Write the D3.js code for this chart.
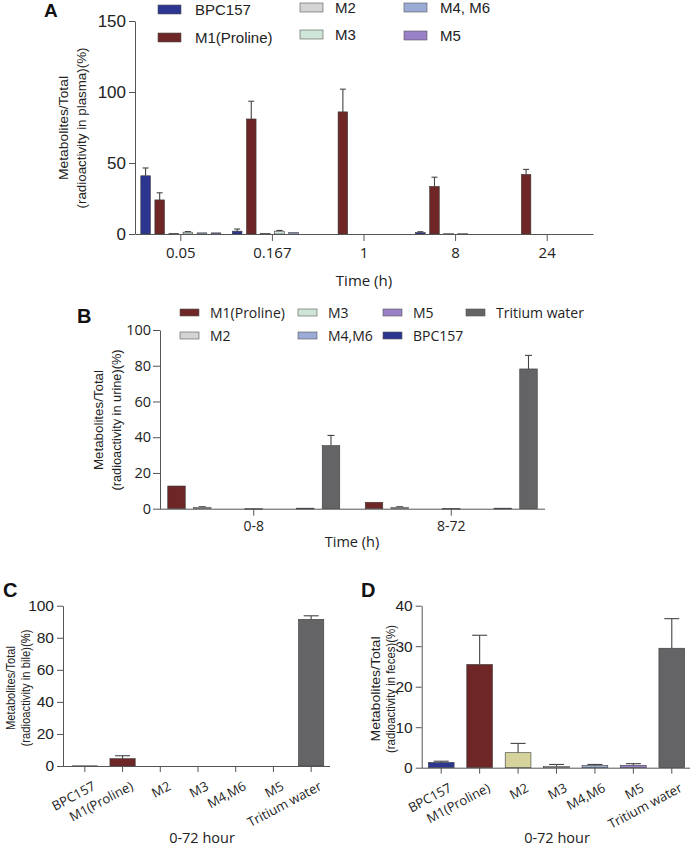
<!DOCTYPE html>
<html><head><meta charset="utf-8">
<script src="https://cdn.jsdelivr.net/npm/d3@7/dist/d3.min.js"></script>
<style>body{margin:0;background:#fff}svg{display:block}</style>
</head><body><svg id="c" width="693" height="846"></svg>
<script>
// ---------- Panel A (plasma) ----------
const timesA = ["0.05", "0.167", "1", "8", "24"];
const seriesA = ["BPC157", "M1(Proline)", "M2", "M3", "M4, M6", "M5"];
const valsA_BPC157 = [41, 2, 0, 1, 0];
const valsA_M1 = [24, 81, 86, 33.5, 42];
const valsA_M2 = [0.5, 0.5, 0, 0.3, 0];
const valsA_M3 = [1.3, 2, 0, 0.3, 0];
const valsA_M4 = [0.8, 1, 0, 0, 0];
const valsA_M5 = [0.8, 0, 0, 0, 0];
const errA_BPC157 = [5.5, 1.5, 0, 0.6, 0];
const errA_M1 = [5, 12.5, 16, 6.5, 3.5];
const errA_M2 = [0, 0, 0, 0, 0];
const errA_M3 = [0.4, 0.5, 0, 0, 0];
const errA_M4 = [0, 0, 0, 0, 0];
const errA_M5 = [0, 0, 0, 0, 0];
const ticksA = [0, 50, 100, 150];

// ---------- Panel B (urine) ----------
const timesB = ["0-8", "8-72"];
const seriesB = ["M1(Proline)", "M2", "M3", "M4,M6", "M5", "BPC157", "Tritium water"];
const valsB_M1 = [12.7, 3.6];
const valsB_M2 = [0.8, 0.8];
const valsB_M3 = [0, 0];
const valsB_M4 = [0.1, 0.2];
const valsB_M5 = [0, 0];
const valsB_BPC157 = [0.3, 0.3];
const valsB_TW = [35.3, 78.2];
const errB_M1 = [0, 0];
const errB_M2 = [0.3, 0.3];
const errB_TW = [5.7, 7.6];
const ticksB = [0, 20, 40, 60, 80, 100];

// ---------- Panel C (bile) & D (feces) ----------
const catsCD = ["BPC157", "M1(Proline)", "M2", "M3", "M4,M6", "M5", "Tritium water"];
const valsC = [0.1, 4.6, 0, 0, 0, 0, 91.5];
const errC = [0, 1.8, 0, 0, 0, 0, 2.2];
const ticksC = [0, 20, 40, 60, 80, 100];
const valsD = [1.3, 25.5, 3.7, 0.3, 0.5, 0.6, 29.5];
const errD = [0.3, 7.2, 2.3, 0.5, 0.3, 0.4, 7.3];
const ticksD = [0, 10, 20, 30, 40];

// colours
const colBPC = "#2c3690", colM1 = "#6e2626", colM2 = "#d4d4d4", colM2D = "#d6d29c",
      colM3 = "#cfe5d7", colM3D = "#c9d8c8", colM4 = "#9aabd5", colM5 = "#9a80c6", colTW = "#646467";

const svg = d3.select("#c");
const AX = "#555";
const SANS = "'Liberation Sans', Arial, sans-serif";
const OPEN = "'Open Sans', sans-serif";

function styleAxis(g, fontSize, family) {
  g.selectAll("path.domain").attr("stroke", AX).attr("stroke-width", 1);
  g.selectAll(".tick line").attr("stroke", AX).attr("stroke-width", 1);
  g.selectAll(".tick text").attr("fill", "#222").attr("font-size", fontSize).attr("font-family", family);
}
function ylabel(x1, x2, cy, l1, l2, len1, len2) {
  [[x1, l1, len1], [x2, l2, len2]].forEach(([x, t, L]) => {
    svg.append("text").attr("transform", `translate(${x},${cy}) rotate(-90)`)
      .attr("text-anchor", "middle").attr("font-family", SANS).attr("font-size", 12.5)
      .attr("fill", "#222").attr("textLength", L).attr("lengthAdjust", "spacingAndGlyphs").text(t);
  });
}
function letter(x, y, t, fs) {
  svg.append("text").attr("x", x).attr("y", y).attr("font-family", SANS).attr("font-weight", "bold")
    .attr("font-size", fs).attr("fill", "#111").text(t);
}
function bars(g, data, x, y, bw, capW) {
  g.selectAll(null).data(data.filter(d => d.e > 0)).join("line")
    .attr("x1", d => d.x + bw / 2).attr("x2", d => d.x + bw / 2)
    .attr("y1", d => y(d.v)).attr("y2", d => y(d.v + d.e))
    .attr("stroke", "#444").attr("stroke-width", 1.1);
  g.selectAll(null).data(data.filter(d => d.e > 0)).join("line")
    .attr("x1", d => d.x + bw / 2 - capW / 2).attr("x2", d => d.x + bw / 2 + capW / 2)
    .attr("y1", d => y(d.v + d.e)).attr("y2", d => y(d.v + d.e))
    .attr("stroke", "#444").attr("stroke-width", 1.1);
  g.selectAll(null).data(data.filter(d => d.v > 0)).join("rect")
    .attr("x", d => d.x).attr("width", bw)
    .attr("y", d => y(d.v)).attr("height", d => Math.max(0.8, y(0) - y(d.v)))
    .attr("fill", d => d.c).attr("stroke", "#3a3a3a").attr("stroke-width", 0.6);
}

// ================= Panel A =================
{
  const y = d3.scaleLinear().domain([0, 150]).range([234, 21]);
  const x0 = d3.scaleBand().domain(timesA).range([135, 593]).padding(0);
  const x1 = d3.scaleBand().domain(seriesA).range([-40, 40]).paddingInner(0.32);
  const vals = [valsA_BPC157, valsA_M1, valsA_M2, valsA_M3, valsA_M4, valsA_M5];
  const errs = [errA_BPC157, errA_M1, errA_M2, errA_M3, errA_M4, errA_M5];
  const cols = [colBPC, colM1, colM2, colM3, colM4, colM5];
  const data = [];
  timesA.forEach((t, i) => seriesA.forEach((s, j) => {
    data.push({ x: x0(t) + x0.bandwidth() / 2 + x1(s), v: vals[j][i], e: errs[j][i], c: cols[j] });
  }));
  const g = svg.append("g");
  bars(g, data, x0, y, x1.bandwidth(), 6);
  const ya = svg.append("g").attr("transform", "translate(135,0)")
    .call(d3.axisLeft(y).tickValues(ticksA).tickSize(6).tickSizeOuter(0).tickPadding(3));
  styleAxis(ya, 17, SANS);
  const xa = svg.append("g").attr("transform", "translate(0,234)")
    .call(d3.axisBottom(x0).tickSize(7).tickSizeOuter(0).tickPadding(6));
  styleAxis(xa, 15, OPEN);
  svg.append("text").attr("x", 364).attr("y", 286).attr("text-anchor", "middle")
    .attr("font-family", OPEN).attr("font-size", 15).attr("fill", "#222").text("Time (h)");
  ylabel(68, 86, 128, "Metabolites/Total", "(radioactivity in plasma)(%)", 104, 161);
  letter(44, 17, "A", 19);
  const lg = [[158, 5], [158, 33], [300, 3], [300, 30], [404, 3], [404, 31]];
  const ltx = [195, 195, 335, 335, 440, 440];
  seriesA.forEach((s, j) => {
    svg.append("rect").attr("x", lg[j][0]).attr("y", lg[j][1]).attr("width", 23).attr("height", 9)
      .attr("fill", cols[j]).attr("stroke", "#555").attr("stroke-width", 0.6);
    svg.append("text").attr("x", ltx[j]).attr("y", lg[j][1] + 10).attr("font-family", SANS)
      .attr("font-size", 15).attr("fill", "#222").text(s);
  });
}

// ================= Panel B =================
{
  const y = d3.scaleLinear().domain([0, 100]).range([508.7, 330]);
  const x0 = d3.scaleBand().domain(timesB).range([155, 550]).padding(0);
  const x1 = d3.scaleBand().domain(seriesB).range([-86, 86]).paddingInner(0.32);
  const vals = [valsB_M1, valsB_M2, valsB_M3, valsB_M4, valsB_M5, valsB_BPC157, valsB_TW];
  const zeros = [0, 0];
  const errs = [errB_M1, errB_M2, zeros, zeros, zeros, zeros, errB_TW];
  const cols = [colM1, colM2, colM3, colM4, colM5, colBPC, colTW];
  const data = [];
  timesB.forEach((t, i) => seriesB.forEach((s, j) => {
    data.push({ x: x0(t) + x0.bandwidth() / 2 + x1(s), v: vals[j][i], e: errs[j][i], c: cols[j] });
  }));
  const g = svg.append("g");
  bars(g, data, x0, y, x1.bandwidth(), 7);
  const ya = svg.append("g").attr("transform", "translate(160,0)")
    .call(d3.axisLeft(y).tickValues(ticksB).tickSize(7).tickSizeOuter(0).tickPadding(2));
  styleAxis(ya, 14.5, OPEN);
  const xa = svg.append("g").attr("transform", "translate(0,508.7)")
    .call(d3.axisBottom(x0).tickSize(7).tickSizeOuter(0).tickPadding(5));
  xa.select("path.domain").attr("d", "M160,0.5H545");
  styleAxis(xa, 14, OPEN);
  svg.append("text").attr("x", 352).attr("y", 547).attr("text-anchor", "middle")
    .attr("font-family", OPEN).attr("font-size", 14.5).attr("fill", "#222").text("Time (h)");
  ylabel(103, 121, 420, "Metabolites/Total", "(radioactivity in urine)(%)", 100, 141);
  letter(77, 323, "B", 20);
  const lg = [[180, 309], [180, 332], [298, 309], [298, 332], [383, 309], [383, 332], [466, 309]];
  const ltx = [210, 210, 328, 328, 413, 413, 496];
  seriesB.forEach((s, j) => {
    svg.append("rect").attr("x", lg[j][0]).attr("y", lg[j][1]).attr("width", 19).attr("height", 7)
      .attr("fill", cols[j]).attr("stroke", "#555").attr("stroke-width", 0.6);
    svg.append("text").attr("x", ltx[j]).attr("y", lg[j][1] + 9).attr("font-family", OPEN)
      .attr("font-size", 14).attr("fill", "#222").text(s);
  });
}

// ================= Panels C and D =================
function panelCD(opts) {
  const y = d3.scaleLinear().domain([0, opts.max]).range([opts.y0, opts.y1]);
  const x = d3.scaleBand().domain(catsCD).range(opts.xr).paddingInner(0.33).paddingOuter(0.165);
  const data = catsCD.map((c, i) => ({ x: x(c), v: opts.vals[i], e: opts.errs[i], c: opts.cols[i] }));
  const g = svg.append("g");
  bars(g, data, x, y, x.bandwidth(), 15);
  const ya = svg.append("g").attr("transform", `translate(${opts.ax},0)`)
    .call(d3.axisLeft(y).tickValues(opts.ticks).tickSize(6).tickSizeOuter(0).tickPadding(3));
  styleAxis(ya, 15.5, SANS);
  const xa = svg.append("g").attr("transform", `translate(0,${opts.y0})`)
    .call(d3.axisBottom(x).tickSize(6).tickSizeOuter(0).tickPadding(6));
  xa.select("path.domain").attr("d", `M${opts.ax},0.5H${opts.xend}`);
  styleAxis(xa, 13, OPEN);
  xa.selectAll(".tick text").attr("text-anchor", "end").attr("dy", "0.3em")
    .attr("transform", "translate(4,9) rotate(-28)");
  svg.append("text").attr("x", opts.hx).attr("y", 843).attr("text-anchor", "middle")
    .attr("font-family", OPEN).attr("font-size", 14.5).attr("fill", "#222").text("0-72 hour");
  ylabel(opts.l1, opts.l1 + 15, opts.lcy, "Metabolites/Total", opts.lab2, opts.len1, opts.len2);
  letter(opts.lx, 597, opts.letter, 20);
}
panelCD({ max: 100, y0: 766, y1: 605.7, xr: [66, 330], ax: 63, xend: 330, ticks: ticksC,
  vals: valsC, errs: errC, cols: [colBPC, colM1, colM2, colM3, colM4, colM5, colTW],
  hx: 202, l1: 15, lcy: 688, lab2: "(radioactivity in bile)(%)", len1: 84, len2: 117, lx: 3, letter: "C" });
panelCD({ max: 40, y0: 767.7, y1: 605.7, xr: [422, 691], ax: 421.7, xend: 690, ticks: ticksD,
  vals: valsD, errs: errD, cols: [colBPC, colM1, colM2D, colM3D, colM4, colM5, colTW],
  hx: 557, l1: 380, lcy: 689, lab2: "(radioactivity in feces)(%)", len1: 105, len2: 128, lx: 361, letter: "D" });
</script></body></html>
